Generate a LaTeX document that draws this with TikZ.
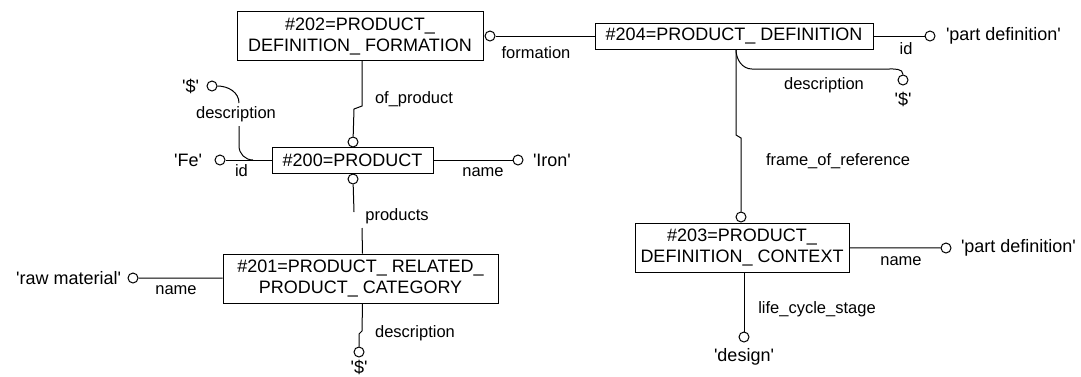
\documentclass[tikz,border=0pt]{standalone}
\usepackage{fontspec}
\setmainfont{Liberation Sans}[Ligatures=TeXOff]
\usepackage{tikz}
\usetikzlibrary{positioning}

\newcommand{\entfont}{\fontsize{18}{21}\selectfont}
\newcommand{\attrfont}{\fontsize{16.5}{18}\selectfont}

\begin{document}
\begin{tikzpicture}[
    x=1pt, y=-1pt,
    line width=1pt,
    entity/.style={draw, font=\entfont, align=center, inner sep=0pt, minimum height=26pt},
    entity2/.style={entity, minimum height=49pt},
    attr/.style={font=\attrfont, inner sep=0pt},
    val/.style={font=\entfont, inner sep=0pt},
    ref/.style={circle, draw, fill=white, minimum size=10pt, inner sep=0pt}
]

\useasboundingbox (0,0) rectangle (1081,376);

% --- Entita' ---
\node[entity2, minimum width=246pt] (pdf) at (360,36) {\#202=PRODUCT\_\\DEFINITION\_ FORMATION};
\node[entity, minimum width=278pt] (pd) at (734,36) {\#204=PRODUCT\_ DEFINITION};
\node[entity, minimum width=161pt] (prod) at (352.5,160) {\#200=PRODUCT};
\node[entity2, minimum width=275pt] (prpc) at (360.5,278.5) {\#201=PRODUCT\_ RELATED\_\\PRODUCT\_ CATEGORY};
\node[entity2, minimum width=214pt] (pdc) at (742,247.5) {\#203=PRODUCT\_\\DEFINITION\_ CONTEXT};

% --- Cerchi di riferimento ---
\node[ref] (pdf_ref) at (490,36) {};
\node[ref] (pd_id) at (930,36) {};
\node[ref] (pd_desc) at (903,80) {};
\node[ref] (pdc_ref) at (741,217) {};
\node[ref] (pdc_name) at (946,248) {};
\node[ref] (pdc_life) at (744,337) {};
\node[ref] (prod_top) at (353,142) {};
\node[ref] (prod_bot) at (353,179) {};
\node[ref] (prod_id) at (220,160) {};
\node[ref] (prod_desc) at (212,86) {};
\node[ref] (prod_name) at (518,160) {};
\node[ref] (prpc_name) at (133,278) {};
\node[ref] (prpc_desc) at (359,352) {};

% --- Valori ---
\node[val, right=10pt of pd_id] (pd_id_val) {'part definition'};
\node[val, below=6pt of pd_desc] (pd_desc_val) {'\$'};
\node[val, right=9pt of pdc_name] (pdc_name_val) {'part definition'};
\node[val, below=5pt of pdc_life] (pdc_life_val) {'design'};
\node[val, left=12pt of prod_id] (prod_id_val) {'Fe'};
\node[val, left=7pt of prod_desc] (prod_desc_val) {'\$'};
\node[val, right=9pt of prod_name] (prod_name_val) {'Iron'};
\node[val, left=6pt of prpc_name] (prpc_name_val) {'raw material'};
\node[val, below=2pt of prpc_desc] (prpc_desc_val) {'\$'};

% --- Collegamenti ---
\draw (pdf_ref) -- (pd);
\draw (pd) -- (pd_id);
\draw ([xshift=2pt]pd.south) to[out=-90,in=180] (752,69) -- (888,69) to[out=0,in=90] (pd_desc);
\draw ([xshift=2pt]pd.south) -- (736,135) -- (741,138) -- (pdc_ref);
\draw (pdc) -- (pdc_name);
\draw ([xshift=2pt]pdc.south) -- (pdc_life);
\draw ([xshift=2pt]pdf.south) -- (362,106) -- (354,109) -- (prod_top);
\draw (prod) -- (prod_id);
\draw (prod) -- (prod_name);
\coordinate (prod_j) at (253,160);
\draw (prod_j) to[out=180,in=-90] (239,146) -- (239,126) (239,103) to[out=90,in=0] (prod_desc);
\draw (prod_bot) -- (354,212) (362,228) -- ([xshift=2pt]prpc.north);
\draw (prpc) -- (prpc_name);
\draw ([xshift=2pt]prpc.south) -- (362,331) -- (359,334) -- (prpc_desc);

% --- Etichette degli attributi ---
\node[attr] (l_formation) at (536,53) {formation};
\node[attr] (l_pd_id) at (906,49) {id};
\node[attr] (l_pd_desc) at (824,85) {description};
\node[attr] (l_frame) at (838,161) {frame\_of\_reference};
\node[attr] (l_pdc_name) at (901,261) {name};
\node[attr] (l_life) at (817,309) {life\_cycle\_stage};
\node[attr] (l_of_product) at (414,99) {of\_product};
\node[attr] (l_prod_desc) at (236,114) {description};
\node[attr] (l_prod_id) at (241.5,171) {id};
\node[attr] (l_prod_name) at (483,172) {name};
\node[attr] (l_products) at (397,216) {products};
\node[attr] (l_prpc_name) at (176,290) {name};
\node[attr] (l_prpc_desc) at (415,333) {description};

\end{tikzpicture}
\end{document}
